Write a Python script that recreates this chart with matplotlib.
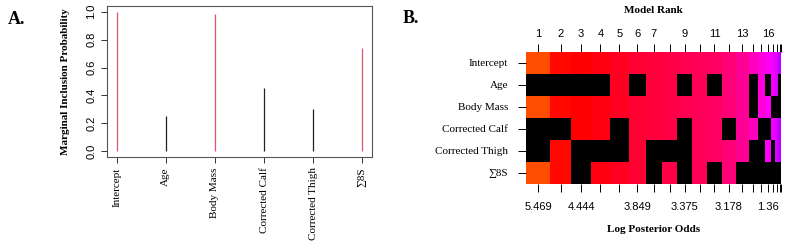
import numpy as np
import matplotlib
matplotlib.use("Agg")
import matplotlib.pyplot as plt
from matplotlib.colors import ListedColormap, hsv_to_rgb

# panel A: marginal inclusion probabilities
variables = ["Intercept", "Age", "Body Mass", "Corrected Calf", "Corrected Thigh", "\u22118S"]
incl_prob = [1.0, 0.25, 0.98, 0.45, 0.30, 0.74]

# panel B: top models (columns), width ~ log posterior odds
model_rank = list(range(1, 21))
log_odds = [5.469, 4.75, 4.444, 4.3, 4.25, 3.849, 3.6, 3.55, 3.375, 3.35,
            3.3, 3.178, 2.95, 2.05, 1.6, 1.36, 0.9, 0.7, 0.65, 0.0]
# inclusion pattern, one row per variable (1 = in model)
inc_intercept = [1] * 20
inc_age   = [0, 0, 0, 0, 1, 0, 1, 1, 0, 1, 0, 1, 1, 0, 1, 0, 1, 1, 0, 0]
inc_mass  = [1, 1, 1, 1, 1, 1, 1, 1, 1, 1, 1, 1, 1, 0, 1, 1, 0, 0, 0, 0]
inc_calf  = [0, 0, 1, 1, 0, 1, 1, 1, 0, 1, 1, 0, 1, 1, 0, 0, 1, 1, 1, 1]
inc_thigh = [0, 1, 0, 0, 0, 1, 0, 0, 0, 1, 1, 1, 1, 0, 0, 1, 0, 1, 1, 0]
inc_8s    = [1, 1, 0, 1, 1, 1, 0, 1, 0, 1, 0, 1, 0, 0, 0, 0, 0, 0, 0, 0]
top_labels = {1: "1", 2: "2", 3: "3", 4: "4", 5: "5", 6: "6", 7: "7",
              9: "9", 11: "11", 13: "13", 16: "16"}
bottom_labels = {1: "5.469", 3: "4.444", 6: "3.849", 9: "3.375", 12: "3.178", 16: "1.36"}

serif = "Liberation Serif"
sans = "Liberation Sans"

fig = plt.figure(figsize=(7.85, 2.46), dpi=100)

# ---------------- A ----------------
axA = fig.add_axes([107/785, 1-157/246, 265/785, 151/246])
xpos = np.arange(1, len(variables)+1)
cols = ["#DF536B" if p > 0.5 else "#222222" for p in incl_prob]
axA.vlines(xpos, 0, incl_prob, colors=cols, lw=0.9)
axA.set_xlim(0.8, 6.2)
axA.set_ylim(-0.04, 1.04)
axA.set_xticks(xpos)
axA.set_xticklabels(variables, rotation=90, family=serif, fontsize=8)
axA.set_yticks([0, 0.2, 0.4, 0.6, 0.8, 1.0])
axA.set_yticklabels(["0.0", "0.2", "0.4", "0.6", "0.8", "1.0"], rotation=90,
                    va="center", family=sans, fontsize=8)
axA.tick_params(length=4, width=0.7, color="#333333")
axA.set_ylabel("Marginal Inclusion Probability", family=serif, fontsize=8,
               fontweight="bold", labelpad=12)
for s in axA.spines.values():
    s.set_linewidth(0.8)
    s.set_color("#555555")
fig.text(8/785, 1-24/246, "A.", family=serif, fontsize=13, fontweight="bold")

# ---------------- B ----------------
axB = fig.add_axes([526/785, 1-184/246, 255/785, 132/246])
edges = np.concatenate([[0], np.cumsum(log_odds)])
centers = (edges[:-1] + edges[1:]) / 2
inc = np.array([inc_intercept, inc_age, inc_mass, inc_calf, inc_thigh, inc_8s])
rank_idx = np.arange(len(model_rank), dtype=float)
vals = np.where(inc == 1, rank_idx, np.nan)

# colour per model rank: orange -> red -> pink -> magenta -> violet
hue_ranks = [1, 2, 3, 6, 9, 11, 12, 13, 14, 16, 18, 20]
hue_degs = [18, 2, 0, -12, -19, -23, -28, -35, -45, -58, -68, -85]
hues = (np.interp(model_rank, hue_ranks, hue_degs) % 360) / 360
hsv = np.stack([hues, np.ones(len(hues)), np.ones(len(hues))], axis=1)
cmap = ListedColormap(hsv_to_rgb(hsv))
cmap.set_bad("black")

yedges = np.arange(len(variables)+1)
axB.pcolormesh(edges, yedges, np.ma.masked_invalid(vals), cmap=cmap,
               vmin=-0.5, vmax=len(model_rank)-0.5)
axB.set_xlim(edges[0], edges[-1])
axB.set_ylim(len(variables), 0)
axB.set_yticks(np.arange(len(variables)) + 0.5)
axB.set_yticklabels(variables, family=serif, fontsize=8)
axB.set_xticks(centers)
axB.set_xticklabels([bottom_labels.get(r, "") for r in model_rank], family=sans, fontsize=8)
axB.tick_params(length=6, width=0.7, pad=7)
axB.tick_params(axis="y", pad=7)
top = axB.secondary_xaxis("top")
top.set_xticks(centers)
top.set_xticklabels([top_labels.get(r, "") for r in model_rank], family=sans, fontsize=8)
top.tick_params(length=6, width=0.7, pad=3)
for s in axB.spines.values():
    s.set_visible(False)
for s in top.spines.values():
    s.set_visible(False)
axB.set_xlabel("Log Posterior Odds", family=serif, fontsize=8, fontweight="bold", labelpad=9)
fig.text((526+781)/2/785, 1-13/246, "Model Rank", family=serif, fontsize=8,
         fontweight="bold", ha="center")
fig.text(403/785, 1-23/246, "B.", family=serif, fontsize=13, fontweight="bold")

fig.savefig("out.png", dpi=100)
